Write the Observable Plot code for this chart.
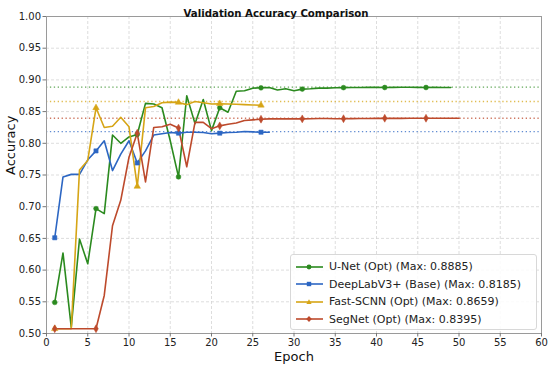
<!DOCTYPE html>
<html>
<head>
<meta charset="utf-8">
<script src="https://cdn.jsdelivr.net/npm/d3@7"></script>
<script src="https://cdn.jsdelivr.net/npm/@observablehq/plot@0.6"></script>
<style>
  html, body { margin: 0; padding: 0; background: #fff; }
  #wrap { position: relative; width: 550px; height: 367px; font-family: "DejaVu Sans", sans-serif; }
  #wrap svg { overflow: visible; }
  #legend { position: absolute; left: 290px; top: 254px; width: 247px; height: 76px; box-sizing: border-box;
    border: 1px solid #d8d8d8; border-radius: 3px; background: rgba(255,255,255,0.85); padding: 3px 0 0 5px; }
  .row { display: flex; align-items: center; height: 17.5px; font-size: 11px; color: #222; white-space: nowrap; }
  .row svg { margin-right: 6px; }
</style>
</head>
<body>
<div id="wrap"></div>
<script>
const seriesNames = ["U-Net (Opt)", "DeepLabV3+ (Base)", "Fast-SCNN (Opt)", "SegNet (Opt)"];
const seriesColors = ["#2b8a1f", "#2c66c3", "#d6a516", "#bd4a2c"];
const seriesSymbols = ["circle", "square", "triangle", "diamond"];
const maxValues = [0.8885, 0.8185, 0.8659, 0.8395];

const unet = [0.549, 0.627, 0.510, 0.649, 0.610, 0.697, 0.689, 0.813, 0.800, 0.810,
  0.814, 0.863, 0.862, 0.856, 0.804, 0.747, 0.875, 0.831, 0.869, 0.820,
  0.856, 0.849, 0.882, 0.883, 0.887, 0.8875, 0.888, 0.884, 0.886, 0.883,
  0.8855, 0.886, 0.887, 0.887, 0.8875, 0.8878, 0.888, 0.888, 0.8882, 0.8882,
  0.8880, 0.8882, 0.8885, 0.8883, 0.8882, 0.8880, 0.8882, 0.8881, 0.8880];
const deeplab = [0.651, 0.747, 0.751, 0.751, 0.774, 0.788, 0.804, 0.757, 0.783, 0.804,
  0.769, 0.788, 0.813, 0.815, 0.817, 0.816, 0.8175, 0.8175, 0.817, 0.815,
  0.816, 0.817, 0.8175, 0.8185, 0.818, 0.8175, 0.8175];
const fastscnn = [0.5075, 0.5075, 0.5075, 0.758, 0.773, 0.856, 0.825, 0.827, 0.841, 0.826,
  0.732, 0.856, 0.858, 0.864, 0.865, 0.8645, 0.861, 0.8659, 0.864, 0.862,
  0.8625, 0.862, 0.8615, 0.861, 0.8605, 0.860];
const segnet = [0.5075, 0.5075, 0.5075, 0.5075, 0.5075, 0.5075, 0.560, 0.670, 0.710, 0.778,
  0.816, 0.739, 0.825, 0.826, 0.830, 0.824, 0.763, 0.833, 0.833, 0.823,
  0.8275, 0.830, 0.832, 0.836, 0.837, 0.838, 0.8385, 0.8385, 0.8385, 0.8385,
  0.8385, 0.8388, 0.839, 0.839, 0.8388, 0.8388, 0.8389, 0.839, 0.8392, 0.8393,
  0.8395, 0.8393, 0.8393, 0.8394, 0.8394, 0.8395, 0.8395, 0.8394, 0.8395, 0.8395];

const xTicks = [0, 5, 10, 15, 20, 25, 30, 35, 40, 45, 50, 55, 60];
const yTicks = [0.50, 0.55, 0.60, 0.65, 0.70, 0.75, 0.80, 0.85, 0.90, 0.95, 1.00];

const allSeries = [unet, deeplab, fastscnn, segnet];
const data = [];
allSeries.forEach((vals, i) => vals.forEach((v, j) => data.push({series: seriesNames[i], epoch: j + 1, acc: v})));
const markers = data.filter(d => d.epoch % 5 === 1);
const maxRows = seriesNames.map((s, i) => ({series: s, value: maxValues[i]}));

const font = "DejaVu Sans, sans-serif";
const plot = Plot.plot({
  width: 550, height: 367,
  marginLeft: 46, marginRight: 9, marginTop: 16, marginBottom: 34,
  style: {fontFamily: font, background: "#fff", color: "#222", overflow: "visible"},
  x: {domain: [0, 60]},
  y: {domain: [0.5, 1.0]},
  color: {domain: seriesNames, range: seriesColors},
  symbol: {domain: seriesNames, range: seriesSymbols},
  marks: [
    Plot.gridX(xTicks, {stroke: "#cfcfcf", strokeOpacity: 0.7, strokeDasharray: "3,2"}),
    Plot.gridY(yTicks, {stroke: "#cfcfcf", strokeOpacity: 0.7, strokeDasharray: "3,2"}),
    Plot.ruleY(maxRows, {y: "value", stroke: "series", strokeDasharray: "1.3,2.6", strokeWidth: 1.3, strokeOpacity: 0.75}),
    Plot.line(data, {x: "epoch", y: "acc", z: "series", stroke: "series", strokeWidth: 1.6}),
    Plot.dot(markers, {x: "epoch", y: "acc", fill: "series", symbol: "series", r: 2.4, stroke: "series", strokeWidth: 0.5}),
    Plot.frame({stroke: "#9a9a9a", strokeWidth: 1}),
    Plot.axisX(xTicks, {tickSize: 3.5, tickFormat: d => String(d), fontSize: 10, tickPadding: 2, label: null, stroke: "#777", color: "#222"}),
    Plot.axisY(yTicks, {tickSize: 3.5, tickFormat: d => d.toFixed(2), fontSize: 10, tickPadding: 2, label: null, stroke: "#777", color: "#222"}),
    Plot.text(["Epoch"], {frameAnchor: "bottom", dy: 27, fontSize: 13, fill: "#111", text: d => d}),
    Plot.text(["Accuracy"], {frameAnchor: "left", dx: -36, rotate: -90, fontSize: 13, fill: "#111", text: d => d}),
    Plot.text(["Validation Accuracy Comparison"], {frameAnchor: "top", dx: -18, dy: -7, fontSize: 10.2, fontWeight: "bold", fill: "#111", text: d => d})
  ]
});

const wrap = document.getElementById("wrap");
wrap.appendChild(plot);

const legend = document.createElement("div");
legend.id = "legend";
const symPaths = {
  circle: '<circle cx="13" cy="5" r="2.4"/>',
  square: '<rect x="10.8" y="2.8" width="4.4" height="4.4"/>',
  triangle: '<path d="M13,2.2 L15.6,7 L10.4,7 Z"/>',
  diamond: '<path d="M13,2 L15.8,5 L13,8 L10.2,5 Z"/>'
};
seriesNames.forEach((s, i) => {
  const row = document.createElement("div");
  row.className = "row";
  const c = seriesColors[i];
  row.innerHTML = `<svg width="27" height="10"><line x1="0" y1="5" x2="27" y2="5" stroke="${c}" stroke-width="1.6"/><g fill="${c}">${symPaths[seriesSymbols[i]]}</g></svg><span>${s} (Max: ${maxValues[i].toFixed(4)})</span>`;
  legend.appendChild(row);
});
wrap.appendChild(legend);
</script>
</body>
</html>
